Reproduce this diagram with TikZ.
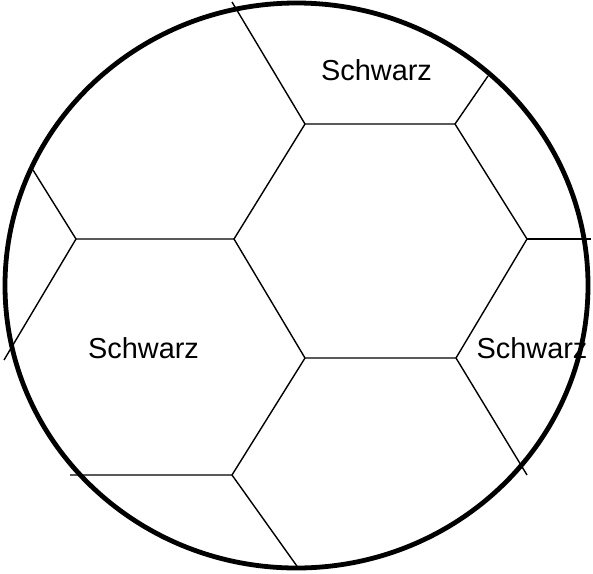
\documentclass[tikz,border=0pt]{standalone}
\usepackage{fontspec}
\setmainfont{Liberation Sans}

\begin{document}
\begin{tikzpicture}[x=1pt,y=-1pt]
\useasboundingbox (0,0) rectangle (593,573);
\tikzset{seam/.style={black, line width=1.4pt, line join=round},
  patch/.style={font=\fontsize{28.9}{34}\selectfont, inner sep=0pt}}
% middle hexagon
\coordinate (hexa) at (305,124);
\coordinate (hexb) at (455,124);
\coordinate (hexc) at (527,239);
\coordinate (hexd) at (456,358);
\coordinate (hexe) at (305,358);
\coordinate (hexf) at (234,239);
\coordinate (lowl) at (232,475);
\coordinate (midl) at (76,239);
\draw[seam] (hexa) -- (hexb) -- (hexc) -- (hexd) -- (hexe) -- (hexf) -- cycle;
\draw[seam] (hexa) -- (232,2);
\draw[seam] (hexb) -- (488,76);
\draw[seam] (hexc) -- (591,239);
\draw[seam] (hexd) -- (527,475);
\draw[seam] (hexe) -- (lowl) -- (70,475);
\draw[seam] (lowl) -- (299,569);
\draw[seam] (hexf) -- (midl) -- (33,170);
\draw[seam] (midl) -- (4,360);
\node[patch] (top) at (376.5,70) {Schwarz};
\node[patch] (left) at (143.5,348) {Schwarz};
\node[patch] (right) at (532,348) {Schwarz};
\draw[black, line width=4.8pt] (296.5,285.5) ellipse (291.5 and 282.5);
\end{tikzpicture}
\end{document}
